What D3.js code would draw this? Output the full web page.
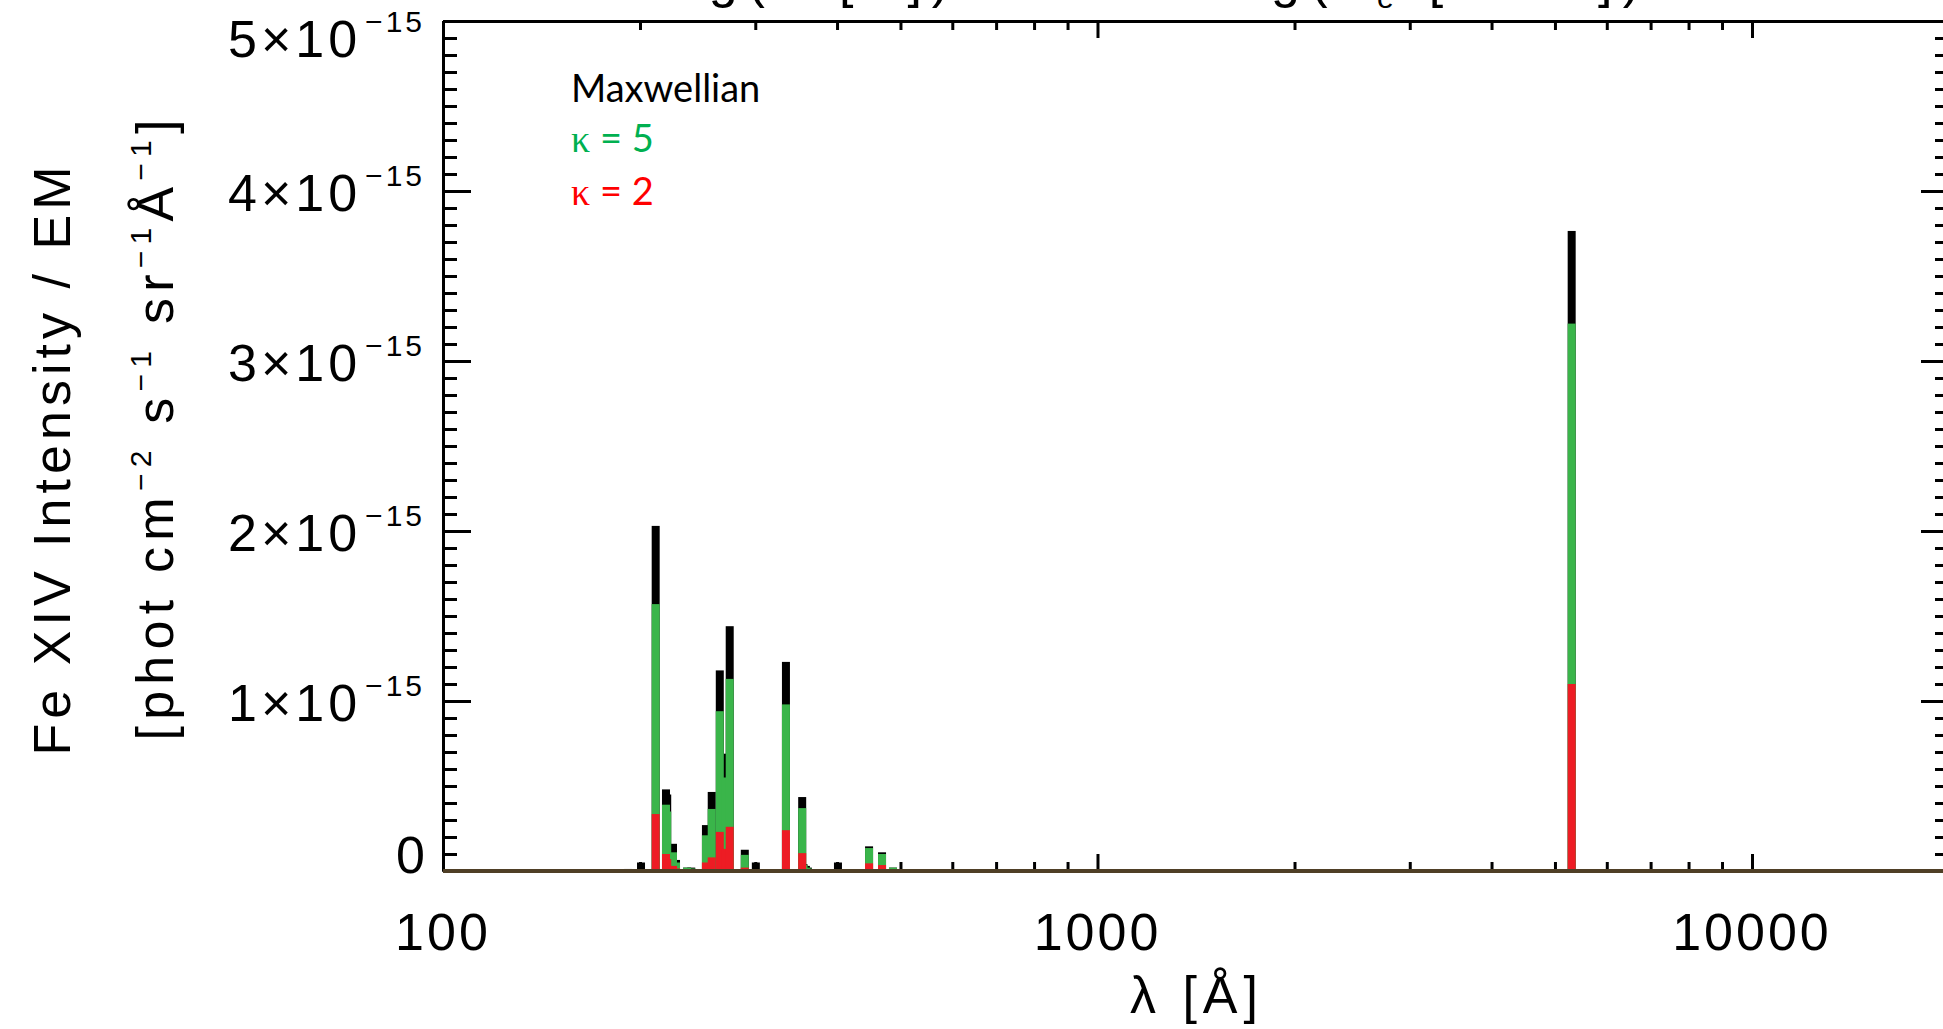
<!DOCTYPE html>
<html>
<head>
<meta charset="utf-8">
<script src="https://cdn.jsdelivr.net/npm/d3@7"></script>
<style>
  html, body { margin: 0; padding: 0; background: #fff; }
  svg { display: block; }
  text { white-space: pre; }
</style>
</head>
<body>
<svg id="chart" width="1943" height="1029"></svg>
<script>
// ---- data (intensities in units of 1e-15 phot cm^-2 s^-1 sr^-1 Å^-1) ----
const wavelengths = [191.8, 200.7, 211.33, 219.13, 220.08, 224.6, 227.0, 236.0, 239.5, 252.20, 257.39, 264.79, 270.52, 274.20, 289.15, 300.6, 334.18, 353.84, 355.5, 358.5, 361.0, 401.3, 447.7, 468.6, 487.0, 530.0, 5302.86];
const maxwellian  = [0.012, 0.05, 2.03, 0.48, 0.45, 0.16, 0.065, 0.02, 0.02, 0.27, 0.465, 1.18, 0.69, 1.44, 0.125, 0.05, 1.23, 0.435, 0.04, 0.03, 0.02, 0.05, 0.145, 0.11, 0.02, 0.01, 3.765];
const kappa5      = [0.01, 0.005, 1.57, 0.39, 0.35, 0.11, 0.05, 0.02, 0.015, 0.21, 0.365, 0.94, 0.55, 1.13, 0.095, 0.005, 0.98, 0.37, 0.035, 0.02, 0.015, 0.003, 0.135, 0.10, 0.02, 0.01, 3.22];
const kappa2      = [0.005, 0.002, 0.335, 0.10, 0.07, 0.03, 0.015, 0.005, 0.005, 0.05, 0.08, 0.23, 0.13, 0.26, 0.02, 0, 0.24, 0.105, 0.01, 0.005, 0.005, 0, 0.045, 0.035, 0.005, 0.003, 1.10];
const seriesNames = ["Maxwellian", "κ = 5", "κ = 2"];
const xTickLabels = [100, 1000, 10000];
const xMinorTicks = [200, 300, 400, 500, 600, 700, 800, 900, 2000, 3000, 4000, 5000, 6000, 7000, 8000, 9000];
const yMajorTicks = [0, 1, 2, 3, 4, 5];
const yMinorTicks = d3.range(0, 51).map(i => i / 10).filter(v => Math.abs(v - Math.round(v)) > 1e-9);
const xDomain = [100, 20000];
const yDomain = [0, 5];

// ---- layout ----
const W = 1943, H = 1029;
const mLeft = 443, mRight = 1949, mTop = 21, mBottom = 871;
const FONT = "'Liberation Sans', Arial, sans-serif";

const svg = d3.select("#chart");
svg.append("rect").attr("width", W).attr("height", H).attr("fill", "#fff");

const x = d3.scaleLog().domain(xDomain).range([mLeft, mRight]);
const y = d3.scaleLinear().domain(yDomain).range([mBottom, mTop]);

function styleAxis(g) {
  g.selectAll("path.domain").attr("stroke", "#000").attr("stroke-width", 3);
  g.selectAll(".tick line").attr("stroke", "#000").attr("stroke-width", 3);
  g.selectAll(".tick text").remove();
}

// left axis
svg.append("g").attr("transform", `translate(${mLeft},0)`)
  .call(d3.axisRight(y).tickValues(yMajorTicks).tickSize(28).tickSizeOuter(0).tickFormat(""))
  .call(styleAxis);
svg.append("g").attr("transform", `translate(${mLeft},0)`)
  .call(d3.axisRight(y).tickValues(yMinorTicks).tickSize(14).tickSizeOuter(0).tickFormat(""))
  .call(styleAxis);
// right axis
svg.append("g").attr("transform", `translate(${mRight},0)`)
  .call(d3.axisLeft(y).tickValues(yMajorTicks).tickSize(28).tickSizeOuter(0).tickFormat(""))
  .call(styleAxis);
svg.append("g").attr("transform", `translate(${mRight},0)`)
  .call(d3.axisLeft(y).tickValues(yMinorTicks).tickSize(14).tickSizeOuter(0).tickFormat(""))
  .call(styleAxis);
// top axis
svg.append("g").attr("transform", `translate(0,${mTop})`)
  .call(d3.axisBottom(x).tickValues(xTickLabels).tickSize(17).tickSizeOuter(0).tickFormat(""))
  .call(styleAxis);
svg.append("g").attr("transform", `translate(0,${mTop})`)
  .call(d3.axisBottom(x).tickValues(xMinorTicks).tickSize(9).tickSizeOuter(0).tickFormat(""))
  .call(styleAxis);
// bottom axis
svg.append("g").attr("transform", `translate(0,${mBottom})`)
  .call(d3.axisTop(x).tickValues(xTickLabels).tickSize(17).tickSizeOuter(0).tickFormat(""))
  .call(styleAxis);
svg.append("g").attr("transform", `translate(0,${mBottom})`)
  .call(d3.axisTop(x).tickValues(xMinorTicks).tickSize(9).tickSizeOuter(0).tickFormat(""))
  .call(styleAxis);

// ---- spectral lines ----
const barW = 8;
const series = [
  { values: maxwellian, color: "#000000" },
  { values: kappa5, color: "#3ab54a" },
  { values: kappa2, color: "#ed1c24" }
];
series.forEach(s => {
  svg.append("g").selectAll("rect")
    .data(wavelengths.map((w, i) => ({ w, v: s.values[i] })))
    .join("rect")
    .attr("x", d => x(d.w) - barW / 2)
    .attr("width", barW)
    .attr("y", d => y(d.v))
    .attr("height", d => y(0) - y(d.v))
    .attr("fill", s.color);
});

// baseline of blended zero-level lines
svg.append("line")
  .attr("x1", x(xDomain[0])).attr("x2", x(xDomain[1]))
  .attr("y1", y(0)).attr("y2", y(0))
  .attr("stroke", "#4f3f26").attr("stroke-width", 4);

// ---- y tick labels ----
yMajorTicks.forEach(v => {
  const base = Math.max(57, Math.min(873, y(v) + 20));
  const t = svg.append("text")
    .attr("x", 425).attr("y", base)
    .attr("text-anchor", "end")
    .attr("font-family", FONT).attr("fill", "#000");
  if (v === 0) {
    t.append("tspan").attr("font-size", 52).text("0");
  } else {
    t.append("tspan").attr("font-size", 52).attr("letter-spacing", 4).text(`${v}×10`);
    t.append("tspan").attr("font-size", 30).attr("dy", -25).attr("dx", 4).attr("letter-spacing", 3).text("−15");
  }
});

// ---- x tick labels ----
xTickLabels.forEach(v => {
  svg.append("text")
    .attr("x", x(v)).attr("y", 950)
    .attr("text-anchor", "middle")
    .attr("font-family", FONT).attr("font-size", 52)
    .attr("letter-spacing", 3)
    .text(String(v));
});

// ---- axis titles ----
svg.append("text")
  .attr("x", 1194).attr("y", 1013)
  .attr("text-anchor", "middle")
  .attr("font-family", FONT).attr("font-size", 52)
  .attr("textLength", 128).attr("lengthAdjust", "spacing")
  .text("λ [Å]");

svg.append("text")
  .attr("transform", "translate(70,461) rotate(-90)")
  .attr("text-anchor", "middle")
  .attr("font-family", FONT).attr("font-size", 52)
  .attr("textLength", 589).attr("lengthAdjust", "spacing")
  .text("Fe XIV Intensity / EM");

const yl2 = svg.append("text")
  .attr("transform", "translate(173,430) rotate(-90)")
  .attr("text-anchor", "middle")
  .attr("font-family", FONT).attr("font-size", 52)
  .attr("textLength", 621).attr("lengthAdjust", "spacing");
const parts = [["[phot cm", 0], ["−2", 1], [" s", 0], ["−1", 1], [" sr", 0], ["−1", 1], ["Å", 0], ["−1", 1], ["]", 0]];
let raised = false;
parts.forEach(([txt, sup]) => {
  const ts = yl2.append("tspan").text(txt);
  if (sup) { ts.attr("font-size", 30).attr("dy", raised ? 0 : -22); raised = true; }
  else { ts.attr("dy", raised ? 22 : 0); raised = false; }
});

// ---- partially visible labels of the panel above (cut off by the frame) ----
svg.append("text")
  .attr("x", 649).attr("y", -3)
  .attr("font-family", FONT).attr("font-size", 52)
  .attr("textLength", 300).attr("lengthAdjust", "spacing")
  .text("log(T [K])");
const t2 = svg.append("text")
  .attr("x", 1210).attr("y", -3)
  .attr("font-family", FONT).attr("font-size", 52)
  .attr("textLength", 430).attr("lengthAdjust", "spacing");
t2.append("tspan").text("log(n");
t2.append("tspan").attr("font-size", 30).attr("dy", 11).text("e");
t2.append("tspan").attr("dy", -11).text(" [cm");
t2.append("tspan").attr("font-size", 30).attr("dy", -22).text("−3");
t2.append("tspan").attr("dy", 22).text("])");

// ---- legend ----
const legendColors = ["#000000", "#00b050", "#ff0000"];
const legendY = [102, 152, 205];
seriesNames.forEach((name, i) => {
  const t = svg.append("text")
    .attr("x", 571).attr("y", legendY[i])
    .attr("font-family", "Lato, 'Open Sans', sans-serif")
    .attr("font-size", 38)
    .attr("fill", legendColors[i]);
  if (name.startsWith("κ")) {
    t.append("tspan").attr("font-family", "'Liberation Serif', serif").text("κ");
    t.append("tspan").text(name.slice(1));
  } else {
    t.text(name);
  }
});
</script>
</body>
</html>
